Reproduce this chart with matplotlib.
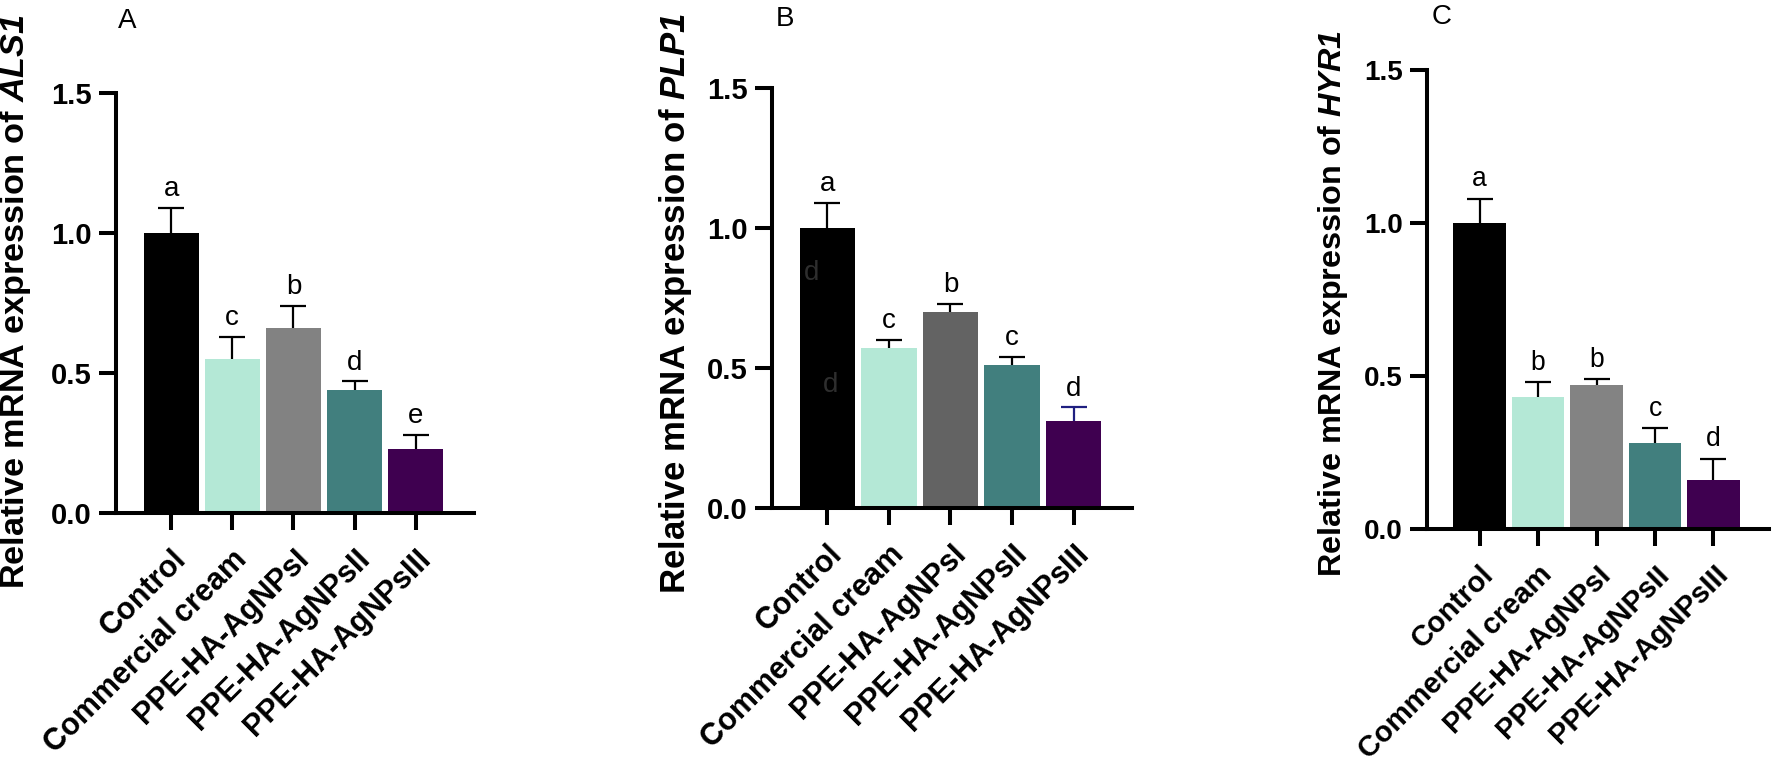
import numpy as np
import matplotlib
matplotlib.use("Agg")
import matplotlib.pyplot as plt

plt.rcParams['font.family'] = ['Liberation Sans', 'DejaVu Sans']
plt.rcParams['mathtext.fontset'] = 'custom'
plt.rcParams['mathtext.it'] = 'Liberation Sans:italic:bold'
plt.rcParams['mathtext.rm'] = 'Liberation Sans:italic:bold'

groups = ['Control', 'Commercial cream', 'PPE-HA-AgNPsI', 'PPE-HA-AgNPsII', 'PPE-HA-AgNPsIII']
genes = ['ALS1', 'PLP1', 'HYR1']
panel_names = ['A', 'B', 'C']

als1_mean = [1.00, 0.55, 0.66, 0.44, 0.23]
als1_err = [0.09, 0.08, 0.08, 0.03, 0.05]
als1_sig = ['a', 'c', 'b', 'd', 'e']

plp1_mean = [1.00, 0.57, 0.70, 0.51, 0.31]
plp1_err = [0.09, 0.03, 0.03, 0.03, 0.05]
plp1_sig = ['a', 'c', 'b', 'c', 'd']

hyr1_mean = [1.00, 0.43, 0.47, 0.28, 0.16]
hyr1_err = [0.08, 0.05, 0.02, 0.05, 0.07]
hyr1_sig = ['a', 'b', 'b', 'c', 'd']

yticks = [0.0, 0.5, 1.0, 1.5]

# stray letters sitting inside the Control bar of panel B
stray_x = [-0.25, 0.05]
stray_y = [0.84, 0.44]
stray_txt = ['d', 'd']

colors_a = ['#000000', '#b4e8d6', '#828282', '#417f7e', '#3f0050']
colors_b = ['#000000', '#b4e8d6', '#636363', '#417f7e', '#3f0050']
colors_c = ['#000000', '#b4e8d6', '#838383', '#417f7e', '#3f0050']
errc_b = ['black', 'black', 'black', 'black', '#1f1f80']

W, H = 1772, 767
fig = plt.figure(figsize=(W / 100, H / 100), dpi=100)

# axes boxes in pixels: spine x, y of 0, y of 1.5, right end
boxes = [(116, 513, 93, 474), (772, 508, 88, 1132), (1427, 529, 70, 1769)]
label_x = [16, 675, 1333]
label_yc = [302, 303, 303]
label_fs = [24.7, 25, 23.3]
letter_pos = [(127, 21), (785, 19), (1442, 17)]
scale = [1.0, 1.0, 0.955]

means = [als1_mean, plp1_mean, hyr1_mean]
errs = [als1_err, plp1_err, hyr1_err]
sigs = [als1_sig, plp1_sig, hyr1_sig]
cols = [colors_a, colors_b, colors_c]
ecols = [['black'] * 5, errc_b, ['black'] * 5]

x = np.arange(len(groups))
for i in range(3):
    sx, y0, y1, rx = boxes[i]
    k = scale[i]
    ax = fig.add_axes([sx / W, (H - y0) / H, (rx - sx) / W, (y0 - y1) / H])
    ax.bar(x, means[i], width=0.9, color=cols[i], zorder=2)
    for j in range(len(groups)):
        eb = ax.errorbar(x[j], means[i][j], yerr=[[0], [errs[i][j]]], fmt='none',
                         ecolor=ecols[i][j], elinewidth=1.6, capsize=9.5 * k, capthick=1.6, zorder=3)
        eb[1][0].set_visible(False)  # no cap at the bottom
        ax.text(x[j], means[i][j] + errs[i][j] + 0.02, sigs[i][j], ha='center', va='bottom',
                fontsize=20 * k, color='black')
    ax.set_xlim(-0.9, 4.95)
    ax.set_ylim(0, 1.5)
    ax.set_yticks(yticks)
    ax.set_yticklabels(['%.1f' % v for v in yticks], fontsize=21 * k, fontweight='bold')
    ax.set_xticks(x)
    ax.set_xticklabels(groups, rotation=45, ha='right', rotation_mode='anchor',
                       fontsize=22 * k, fontweight='bold')
    for s in ['top', 'right']:
        ax.spines[s].set_visible(False)
    for s in ['left', 'bottom']:
        ax.spines[s].set_linewidth(2.9)
    ax.tick_params(axis='both', width=2.9, length=12.5, pad=5)
    ax.tick_params(axis='x', pad=10)
    if i == 1:
        for m in range(len(stray_x)):
            ax.text(stray_x[m], stray_y[m], stray_txt[m], color='#2e2e2e', fontsize=20,
                    ha='center', va='center')
    fig.text(label_x[i] / W, (H - label_yc[i]) / H,
             'Relative mRNA expression of $\\mathit{%s}$' % genes[i],
             rotation=90, ha='center', va='center', fontsize=label_fs[i], fontweight='bold')
    lx, ly = letter_pos[i]
    fig.text(lx / W, (H - ly) / H, panel_names[i], ha='center', va='center', fontsize=20)

fig.savefig('out.png', dpi=100)
